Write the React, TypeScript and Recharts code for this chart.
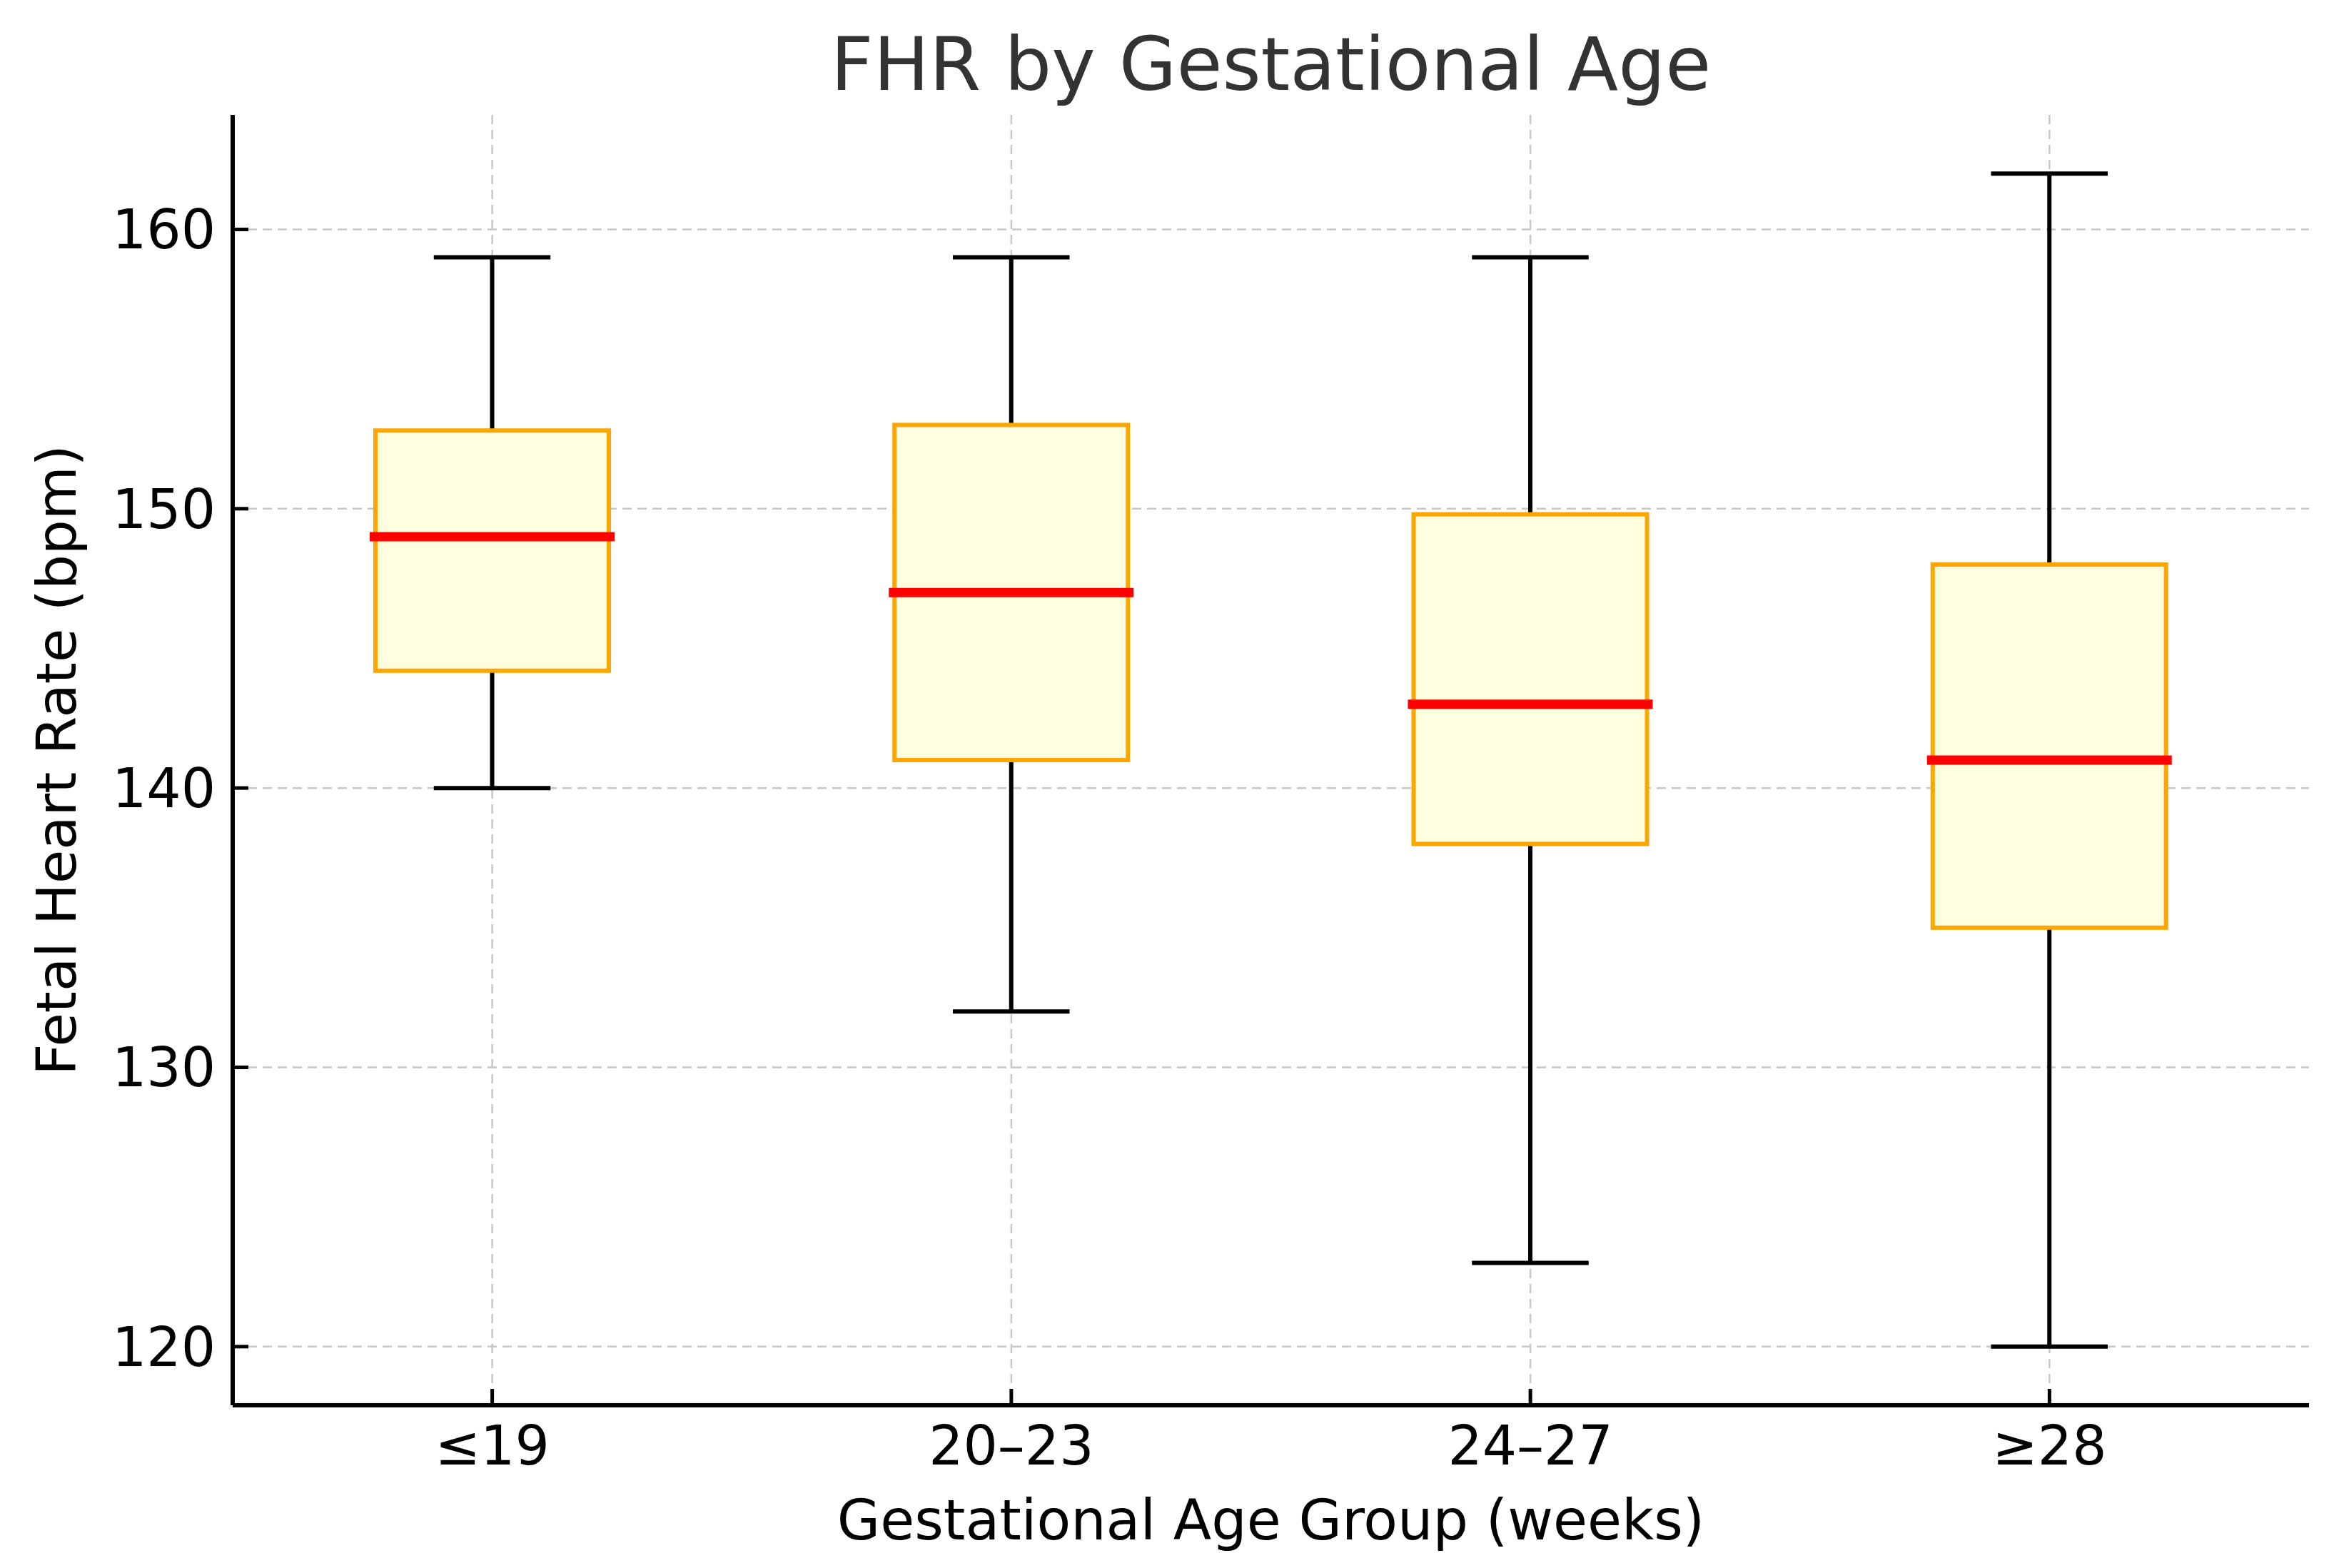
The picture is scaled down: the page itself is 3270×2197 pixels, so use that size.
import { ComposedChart, Bar, XAxis, YAxis, CartesianGrid } from "recharts";

const W = 3270;
const H = 2197;
const PLOT_LEFT = 326;
const PLOT_RIGHT = 3235;
const PLOT_TOP = 161;
const PLOT_BOTTOM = 1969;

const FONT = "'DejaVu Sans', Verdana, sans-serif";

const groups = ["≤19", "20–23", "24–27", "≥28"];
const whiskerLow = [140, 132, 123, 120];
const q1 = [144.2, 141, 138, 135];
const median = [149, 147, 143, 141];
const q3 = [152.8, 153, 149.8, 148];
const whiskerHigh = [159, 159, 159, 162];
const yTicks = [120, 130, 140, 150, 160];

const rows = groups.map((g, i) => ({
  group: g,
  low: whiskerLow[i],
  q1: q1[i],
  med: median[i],
  q3: q3[i],
  high: whiskerHigh[i],
  range: [whiskerLow[i], whiskerHigh[i]],
}));

const COLORS = {
  box: "#FFA500",
  fill: "#FFFFE0",
  median: "#FF0000",
  whisker: "#000000",
  grid: "#c8c8c8",
};

function BoxShape(props: any) {
  const { x, y, width, height, payload } = props;
  if (!payload) return null;
  const top = Math.min(y, y + height);
  const bottom = Math.max(y, y + height);
  const span = payload.high - payload.low;
  const py = (v: number) => top + ((payload.high - v) / span) * (bottom - top);
  const cx = x + width / 2;
  const capHalf = width / 4;
  return (
    <g>
      <line x1={cx} x2={cx} y1={py(payload.high)} y2={py(payload.q3)} stroke={COLORS.whisker} strokeWidth={6} />
      <line x1={cx} x2={cx} y1={py(payload.q1)} y2={py(payload.low)} stroke={COLORS.whisker} strokeWidth={6} />
      <line x1={cx - capHalf} x2={cx + capHalf} y1={py(payload.high)} y2={py(payload.high)} stroke={COLORS.whisker} strokeWidth={6} />
      <line x1={cx - capHalf} x2={cx + capHalf} y1={py(payload.low)} y2={py(payload.low)} stroke={COLORS.whisker} strokeWidth={6} />
      <rect
        x={x}
        y={py(payload.q3)}
        width={width}
        height={py(payload.q1) - py(payload.q3)}
        fill={COLORS.fill}
        stroke={COLORS.box}
        strokeWidth={6}
      />
      <line x1={x - 8} x2={x + width + 8} y1={py(payload.med)} y2={py(payload.med)} stroke={COLORS.median} strokeWidth={13} />
    </g>
  );
}

function YTick(props: any) {
  const { x, y, payload } = props;
  return (
    <g>
      <line x1={x} x2={x + 22} y1={y} y2={y} stroke="#000" strokeWidth={5} />
      <text x={x - 24} y={y + 27} textAnchor="end" fontFamily={FONT} fontSize={76} fill="#000">
        {payload.value}
      </text>
    </g>
  );
}

function XTick(props: any) {
  const { x, y, payload } = props;
  return (
    <g>
      <line x1={x} x2={x} y1={y} y2={y - 23} stroke="#000" strokeWidth={5} />
      <text x={x} y={y + 83} textAnchor="middle" fontFamily={FONT} fontSize={76} fill="#000">
        {payload.value}
      </text>
    </g>
  );
}

export default function App() {
  const midX = (PLOT_LEFT + PLOT_RIGHT) / 2;
  const midY = (PLOT_TOP + PLOT_BOTTOM) / 2;
  return (
    <div style={{ position: "absolute", left: 0, top: 0, width: W, height: H, background: "#fff" }}>
      <ComposedChart
        width={W}
        height={H}
        data={rows}
        margin={{ top: PLOT_TOP, right: W - PLOT_RIGHT, bottom: 0, left: 0 }}
        barCategoryGap="27.5%"
      >
        {/* syncWithTicks: no extra lines on the plot edges */}
        <CartesianGrid stroke={COLORS.grid} strokeDasharray="13 8" strokeWidth={2.5} syncWithTicks />
        <XAxis
          dataKey="group"
          height={H - PLOT_BOTTOM}
          interval={0}
          tick={<XTick />}
          tickLine={false}
          tickSize={0}
          tickMargin={0}
          axisLine={{ stroke: "#000", strokeWidth: 6 }}
        />
        <YAxis
          type="number"
          width={PLOT_LEFT}
          domain={[117.9, 164.1]}
          ticks={yTicks}
          allowDataOverflow
          tick={<YTick />}
          tickLine={false}
          tickSize={0}
          tickMargin={0}
          axisLine={{ stroke: "#000", strokeWidth: 6 }}
        />
        <Bar dataKey="range" shape={<BoxShape />} isAnimationActive={false} />
      </ComposedChart>
      <svg
        width={W}
        height={H}
        style={{ position: "absolute", left: 0, top: 0, pointerEvents: "none" }}
      >
        <text x={midX} y={126} textAnchor="middle" fontFamily={FONT} fontSize={104} fill="#333">
          FHR by Gestational Age
        </text>
        <text x={midX} y={2157} textAnchor="middle" fontFamily={FONT} fontSize={78} fill="#000">
          Gestational Age Group (weeks)
        </text>
        <text
          x={106}
          y={midY}
          textAnchor="middle"
          fontFamily={FONT}
          fontSize={77}
          fill="#000"
          transform={`rotate(-90, 106, ${midY})`}
        >
          Fetal Heart Rate (bpm)
        </text>
      </svg>
    </div>
  );
}
